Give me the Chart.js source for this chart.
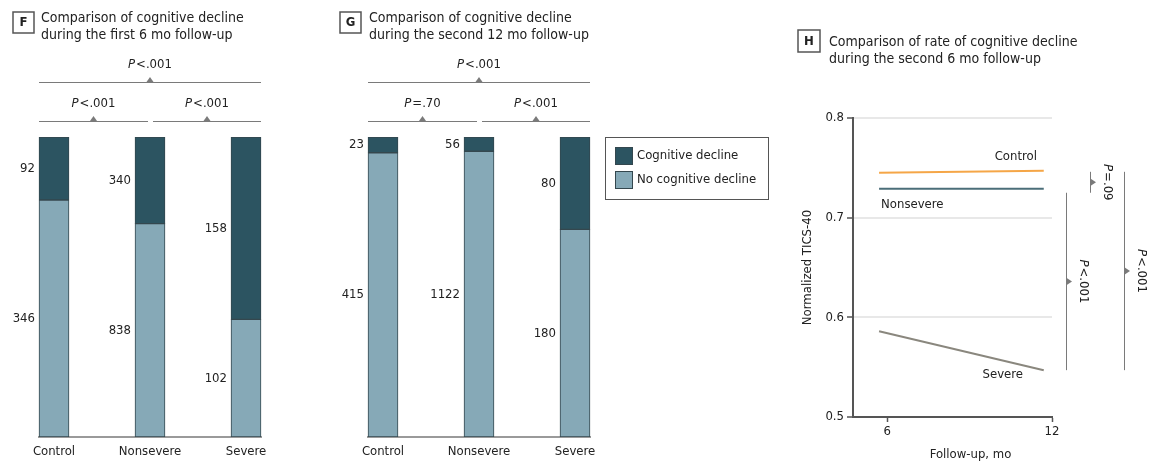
<!DOCTYPE html>
<html>
<head>
<meta charset="utf-8">
<title>Cognitive decline by COVID-19 severity</title>
<script src="https://cdn.jsdelivr.net/npm/chart.js@4.4.1/dist/chart.umd.min.js"></script>
<style>
  html, body { margin: 0; padding: 0; background: #fff; }
  body { width: 1161px; height: 466px; position: relative; overflow: hidden; }
  canvas { position: absolute; top: 0; }
  #panelF { left: 0; }
  #panelG { left: 330px; }
  #panelH { left: 780px; }
</style>
</head>
<body>
<canvas id="panelF" width="300" height="466"></canvas>
<canvas id="panelG" width="450" height="466"></canvas>
<canvas id="panelH" width="381" height="466"></canvas>
<script>
// ---- data ----
const groups = ['Control', 'Nonsevere', 'Severe'];
const seriesNames = ['Cognitive decline', 'No cognitive decline'];

// counts of participants, first 6 months of follow-up
const firstDecline = [92, 340, 158];
const firstNoDecline = [346, 838, 102];
// counts of participants, second 12 months of follow-up
const secondDecline = [23, 56, 80];
const secondNoDecline = [415, 1122, 180];

// P values: overall, control vs nonsevere, nonsevere vs severe
const firstPValues = ['<.001', '<.001', '<.001'];
const secondPValues = ['<.001', '=.70', '<.001'];

// normalized TICS-40 trajectories over follow-up months
const months = [5.7, 11.7];
const controlScores = [0.745, 0.747];
const nonsevereScores = [0.729, 0.729];
const severeScores = [0.586, 0.547];
const rateGroups = ['Control', 'Nonsevere', 'Severe'];
// P values: control vs nonsevere, nonsevere vs severe, control vs severe
const ratePValues = ['=.09', '<.001', '<.001'];

const yTickValues = [0.5, 0.6, 0.7, 0.8];
const xTickValues = [6, 12];

// ---- styling ----
const FONT = '"DejaVu Sans Condensed", "Liberation Sans Narrow", "Open Sans", sans-serif';
const TEXT = '#222222';
const DARK = '#2c5461';
const LIGHT = '#86a9b7';
const EDGE = '#34474e';
const BRACKET = '#7a7a7a';
Chart.defaults.font.family = FONT;
Chart.defaults.font.size = 13;
Chart.defaults.color = TEXT;

function drawHeading(ctx, letter, lines, box, textX, lineYs) {
  ctx.save();
  ctx.strokeStyle = '#555';
  ctx.lineWidth = 1.5;
  ctx.strokeRect(box.x, box.y, box.s, box.s);
  ctx.fillStyle = TEXT;
  ctx.font = 'bold 13px ' + FONT;
  ctx.textAlign = 'center';
  ctx.textBaseline = 'middle';
  ctx.fillText(letter, box.x + box.s / 2, box.y + box.s / 2 + 0.5);
  ctx.font = '14px ' + FONT;
  ctx.textAlign = 'left';
  lines.forEach((t, i) => ctx.fillText(t, textX, lineYs[i]));
  ctx.restore();
}

function drawPLabel(ctx, cx, cy, rest) {
  const fi = 'italic 13px ' + FONT;
  const fr = '13px ' + FONT;
  ctx.save();
  ctx.font = fi;
  const wP = ctx.measureText('P').width;
  ctx.font = fr;
  const wR = ctx.measureText(rest).width;
  const x0 = cx - (wP + wR + 1) / 2;
  ctx.fillStyle = TEXT;
  ctx.textAlign = 'left';
  ctx.textBaseline = 'middle';
  ctx.font = fi;
  ctx.fillText('P', x0, cy);
  ctx.font = fr;
  ctx.fillText(rest, x0 + wP + 1, cy);
  ctx.restore();
}

// horizontal comparison line with an upward marker at its midpoint
function hBracket(ctx, x1, x2, y, label) {
  ctx.save();
  ctx.strokeStyle = BRACKET;
  ctx.fillStyle = BRACKET;
  ctx.lineWidth = 1;
  ctx.beginPath();
  ctx.moveTo(x1, y + 0.5);
  ctx.lineTo(x2, y + 0.5);
  ctx.stroke();
  const m = (x1 + x2) / 2;
  ctx.beginPath();
  ctx.moveTo(m - 3.5, y);
  ctx.lineTo(m + 3.5, y);
  ctx.lineTo(m, y - 5);
  ctx.closePath();
  ctx.fill();
  ctx.restore();
  drawPLabel(ctx, m, y - 17, label);
}

// vertical comparison line with a right-pointing marker and rotated label
function vBracket(ctx, x, y1, y2, label) {
  ctx.save();
  ctx.strokeStyle = BRACKET;
  ctx.fillStyle = BRACKET;
  ctx.lineWidth = 1;
  ctx.beginPath();
  ctx.moveTo(x + 0.5, y1);
  ctx.lineTo(x + 0.5, y2);
  ctx.stroke();
  const m = (y1 + y2) / 2;
  ctx.beginPath();
  ctx.moveTo(x, m - 4);
  ctx.lineTo(x, m + 4);
  ctx.lineTo(x + 6, m);
  ctx.closePath();
  ctx.fill();
  ctx.translate(x + 17, m);
  ctx.rotate(Math.PI / 2);
  drawPLabel(ctx, 0, 0, label);
  ctx.restore();
}

const barDecorations = {
  id: 'barDecorations',
  beforeDatasetsDraw(chart) {
    const ctx = chart.ctx;
    const bars = chart.getDatasetMeta(0).data;
    const left = bars[0].x - bars[0].width / 2 - 1;
    const right = bars[2].x + bars[2].width / 2 + 1;
    ctx.save();
    ctx.strokeStyle = '#9a9a9a';
    ctx.lineWidth = 2;
    ctx.beginPath();
    ctx.moveTo(left, chart.chartArea.bottom);
    ctx.lineTo(right, chart.chartArea.bottom);
    ctx.stroke();
    ctx.restore();
  },
  afterDraw(chart, args, opts) {
    const ctx = chart.ctx;
    const area = chart.chartArea;
    // counts beside each segment
    chart.data.datasets.forEach((ds, di) => {
      chart.getDatasetMeta(di).data.forEach((bar, j) => {
        ctx.save();
        ctx.fillStyle = TEXT;
        ctx.font = '13px ' + FONT;
        ctx.textAlign = 'right';
        ctx.textBaseline = 'middle';
        ctx.fillText(String(ds.counts[j]), bar.x - bar.width / 2 - 4, (bar.y + bar.base) / 2);
        ctx.restore();
      });
    });
    // pairwise and overall comparisons
    const bars = chart.getDatasetMeta(0).data;
    const l0 = bars[0].x - bars[0].width / 2;
    const r2 = bars[2].x + bars[2].width / 2;
    const p = opts.pValues;
    hBracket(ctx, l0, r2, area.top - 55, p[0]);
    hBracket(ctx, l0, bars[1].x - 2, area.top - 16, p[1]);
    hBracket(ctx, bars[1].x + 3, r2, area.top - 16, p[2]);
    drawHeading(ctx, opts.letter, opts.title, opts.box, opts.titleX, [18, 35]);
    if (opts.legend) {
      const L = opts.legend;
      ctx.save();
      ctx.strokeStyle = '#555';
      ctx.lineWidth = 1;
      ctx.strokeRect(L.x + 0.5, L.y + 0.5, L.w, L.h);
      const items = chart.data.datasets.slice().reverse();
      items.forEach((ds, i) => {
        const y = L.y + 10 + i * 24;
        ctx.fillStyle = ds.backgroundColor;
        ctx.fillRect(L.x + 10, y, 18, 18);
        ctx.strokeStyle = EDGE;
        ctx.strokeRect(L.x + 10.5, y + 0.5, 17, 17);
        ctx.fillStyle = TEXT;
        ctx.font = '13px ' + FONT;
        ctx.textAlign = 'left';
        ctx.textBaseline = 'middle';
        ctx.fillText(ds.label, L.x + 32, y + 9);
      });
      ctx.restore();
    }
  }
};

function makeBarPanel(canvasId, decline, noDecline, decor, padRight) {
  const totals = decline.map((d, i) => d + noDecline[i]);
  return new Chart(document.getElementById(canvasId), {
    type: 'bar',
    data: {
      labels: groups,
      datasets: [
        {
          label: seriesNames[1],
          data: noDecline.map((v, i) => v / totals[i] * 100),
          counts: noDecline,
          backgroundColor: LIGHT
        },
        {
          label: seriesNames[0],
          data: decline.map((v, i) => v / totals[i] * 100),
          counts: decline,
          backgroundColor: DARK
        }
      ]
    },
    options: {
      responsive: false,
      animation: false,
      layout: { padding: { left: decor.padLeft, right: padRight, top: 137, bottom: 0 } },
      datasets: {
        bar: { barThickness: 30, borderWidth: 1, borderColor: EDGE, borderSkipped: false }
      },
      plugins: {
        legend: { display: false },
        tooltip: { enabled: false },
        barDecorations: decor
      },
      scales: {
        x: {
          stacked: true,
          grid: { display: false, drawTicks: false },
          border: { display: false },
          ticks: { padding: 7, color: TEXT, font: { size: 13 } },
          afterFit(s) { s.height = 29; }
        },
        y: { stacked: true, display: false, min: 0, max: 100 }
      }
    },
    plugins: [barDecorations]
  });
}

makeBarPanel('panelF', firstDecline, firstNoDecline, {
  letter: 'F',
  title: ['Comparison of cognitive decline', 'during the first 6 mo follow-up'],
  box: { x: 13, y: 12, s: 21 },
  titleX: 41,
  pValues: firstPValues,
  padLeft: 6
}, 6);

makeBarPanel('panelG', secondDecline, secondNoDecline, {
  letter: 'G',
  title: ['Comparison of cognitive decline', 'during the second 12 mo follow-up'],
  box: { x: 10, y: 12, s: 21 },
  titleX: 39,
  pValues: secondPValues,
  padLeft: 5,
  legend: { x: 275, y: 137, w: 163, h: 62 }
}, 157);

// ---- rate of decline panel ----
const lineDecorations = {
  id: 'lineDecorations',
  afterDraw(chart) {
    const ctx = chart.ctx;
    const xs = chart.scales.x;
    const ys = chart.scales.y;
    const area = chart.chartArea;
    const last = months.length - 1;
    const xEnd = xs.getPixelForValue(months[last]);
    const xStart = xs.getPixelForValue(months[0]);
    const cY = ys.getPixelForValue(controlScores[last]);
    const nY = ys.getPixelForValue(nonsevereScores[last]);
    const nY0 = ys.getPixelForValue(nonsevereScores[0]);
    const sY = ys.getPixelForValue(severeScores[last]);

    ctx.save();
    ctx.fillStyle = TEXT;
    ctx.font = '13px ' + FONT;
    ctx.textBaseline = 'middle';
    ctx.textAlign = 'center';
    ctx.fillText(rateGroups[0], xEnd - 28, cY - 14);
    ctx.textAlign = 'left';
    ctx.fillText(rateGroups[1], xStart + 2, nY0 + 16);
    ctx.textAlign = 'center';
    ctx.fillText(rateGroups[2], xEnd - 41, sY + 4);
    // x-axis title
    ctx.fillText('Follow-up, mo', (area.left + area.right) / 2 + 18, 455);
    ctx.restore();

    vBracket(ctx, area.right + 38, cY + 1, nY + 4, ratePValues[0]);
    vBracket(ctx, area.right + 14, nY + 4, sY, ratePValues[1]);
    vBracket(ctx, area.right + 72, cY + 1, sY, ratePValues[2]);

    drawHeading(ctx, 'H',
      ['Comparison of rate of cognitive decline', 'during the second 6 mo follow-up'],
      { x: 18, y: 30, s: 22 }, 49, [42, 59]);
  }
};

new Chart(document.getElementById('panelH'), {
  type: 'line',
  data: {
    datasets: [
      { label: rateGroups[0], data: months.map((m, i) => ({ x: m, y: controlScores[i] })), borderColor: '#f5a647' },
      { label: rateGroups[1], data: months.map((m, i) => ({ x: m, y: nonsevereScores[i] })), borderColor: '#4b6e79' },
      { label: rateGroups[2], data: months.map((m, i) => ({ x: m, y: severeScores[i] })), borderColor: '#8a877e' }
    ]
  },
  options: {
    responsive: false,
    animation: false,
    layout: { padding: { left: 16, right: 109, top: 118, bottom: 0 } },
    datasets: { line: { borderWidth: 2, pointRadius: 0, tension: 0 } },
    plugins: { legend: { display: false }, tooltip: { enabled: false } },
    scales: {
      x: {
        type: 'linear',
        min: 4.75,
        max: 12,
        afterBuildTicks(s) { s.ticks = xTickValues.map(v => ({ value: v })); },
        grid: { drawOnChartArea: false, drawTicks: true, tickLength: 5, tickColor: '#555', tickWidth: 1.5 },
        border: { color: '#555', width: 2 },
        ticks: { padding: 2, color: TEXT, font: { size: 13 } },
        afterFit(s) { s.height = 49; }
      },
      y: {
        min: 0.5,
        max: 0.8,
        afterBuildTicks(s) { s.ticks = yTickValues.map(v => ({ value: v })); },
        grid: {
          color: c => (c.tick && c.tick.value === yTickValues[0]) ? 'rgba(0,0,0,0)' : '#e8e8e8',
          lineWidth: 2,
          drawTicks: true,
          tickLength: 6,
          tickColor: '#555',
          tickWidth: 1.5
        },
        border: { color: '#555', width: 2 },
        ticks: { padding: 3, color: TEXT, font: { size: 13 }, callback: v => v.toFixed(1) },
        title: { display: true, text: 'Normalized TICS-40', color: TEXT, font: { size: 13 } },
        afterFit(s) { s.width = 57; }
      }
    }
  },
  plugins: [lineDecorations]
});
</script>
</body>
</html>
